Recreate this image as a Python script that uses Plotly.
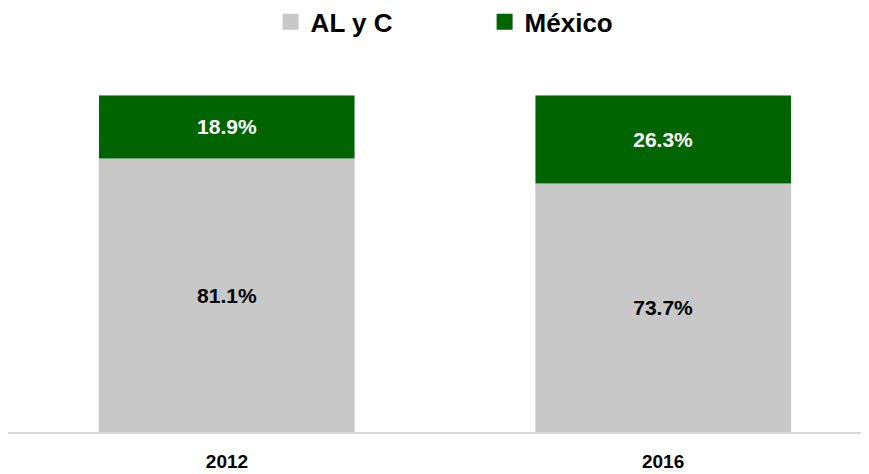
import plotly.graph_objects as go

years = ["2012", "2016"]
alyc = [81.1, 73.7]
mexico = [18.9, 26.3]
series_names = ["AL y C", "México"]
colors = ["#C8C8C8", "#006400"]

FONT = "Liberation Sans"

fig = go.Figure()
fig.add_trace(go.Bar(
    x=years, y=alyc, name=series_names[0], marker_color=colors[0],
    text=[f"{v:.1f}%" for v in alyc], textposition="inside",
    insidetextanchor="middle", textangle=0,
    textfont=dict(color="black", size=21, family=FONT, weight="bold"),
    showlegend=False, width=0.587, hoverinfo="skip",
))
fig.add_trace(go.Bar(
    x=years, y=mexico, name=series_names[1], marker_color=colors[1],
    text=[f"{v:.1f}%" for v in mexico], textposition="inside",
    insidetextanchor="middle", textangle=0,
    textfont=dict(color="white", size=21, family=FONT, weight="bold"),
    showlegend=False, width=0.587, hoverinfo="skip",
))
# legend entries
for name, c in zip(series_names, colors):
    fig.add_trace(go.Scatter(
        x=[None], y=[None], mode="markers", name=name,
        marker=dict(symbol="square", size=18, color=c),
    ))

fig.update_layout(
    width=861, height=466,
    barmode="stack",
    plot_bgcolor="white", paper_bgcolor="white",
    margin=dict(l=0, r=0, t=87, b=42, autoexpand=False),
    font=dict(family=FONT, color="black"),
    legend=dict(
        orientation="h", traceorder="normal",
        x=0.305, xanchor="left", y=1.217, yref="paper",
        yanchor="middle",
        font=dict(size=26, family=FONT, weight="bold"),
        entrywidth=169, entrywidthmode="pixels",
        itemwidth=30, bgcolor="rgba(0,0,0,0)",
    ),
    xaxis=dict(
        type="category", range=[-0.502, 1.472],
        showline=True, linecolor="#D9D9D9", linewidth=2,
        showgrid=False, ticks="", ticklabelstandoff=11,
        tickfont=dict(size=19, family=FONT, weight="bold"),
    ),
    yaxis=dict(
        range=[0, 100], visible=False, showgrid=False,
    ),
)

fig.write_html("out.html")
